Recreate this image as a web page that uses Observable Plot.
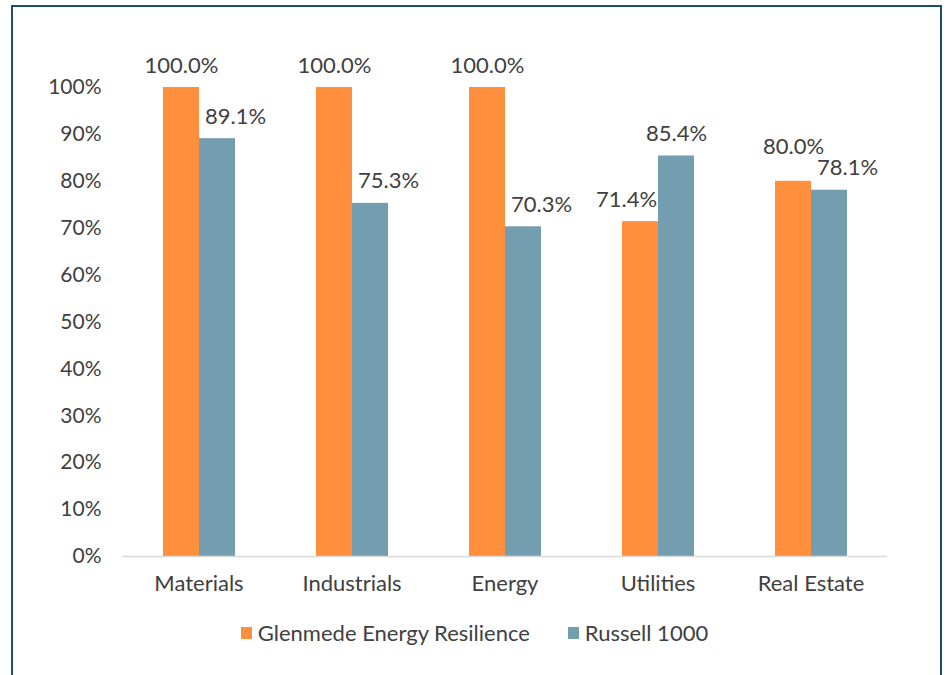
<!DOCTYPE html>
<html>
<head>
<meta charset="utf-8">
<script src="https://cdn.jsdelivr.net/npm/d3@7"></script>
<script src="https://cdn.jsdelivr.net/npm/@observablehq/plot@0.6"></script>
<style>
  html, body { margin: 0; padding: 0; background: #fff; width: 949px; height: 675px; overflow: hidden; }
  #frame { position: absolute; left: 11px; top: 5px; width: 931px; height: 700px; border: 2px solid #1F4E69; box-sizing: border-box; }
  #chart { position: absolute; left: 0; top: 0; }
  #legend { position: absolute; left: 0; top: 619px; width: 949px; display: flex; justify-content: center; align-items: center; font-family: Lato, sans-serif; font-size: 22px; color: #404040; line-height: 28px; }
  .item { display: flex; align-items: center; margin: 0 19px; }
  .sw { width: 11px; height: 12px; margin-right: 6px; }
</style>
</head>
<body>
<div id="frame"></div>
<div id="chart"></div>
<div id="legend"></div>
<script>
const categories = ["Materials", "Industrials", "Energy", "Utilities", "Real Estate"];
const series = ["Glenmede Energy Resilience", "Russell 1000"];
const glenmede = [1.000, 1.000, 1.000, 0.714, 0.800];
const russell = [0.891, 0.753, 0.703, 0.854, 0.781];
const yTicks = [0, 0.1, 0.2, 0.3, 0.4, 0.5, 0.6, 0.7, 0.8, 0.9, 1.0];

// styling
const colors = ["#FF8F3D", "#739EAF"];
// label nudges (as placed in the original chart), keyed by category|series index
const labelNudge = {
  "Utilities|0": [-14, 0],
  "Real Estate|0": [0, -12],
  "Materials|1": [18, 0],
  "Industrials|1": [18, 0],
  "Energy|1": [18, 0],
  "Real Estate|1": [18, 0]
};

const data = [];
categories.forEach((c, i) => {
  data.push({category: c, series: series[0], si: 0, value: glenmede[i]});
  data.push({category: c, series: series[1], si: 1, value: russell[i]});
});
const nudge = d => labelNudge[d.category + "|" + d.si] || [0, 0];

const labelMarks = data.map(d => Plot.text([d], {
  fx: "category", x: "series", y: "value",
  text: v => (v.value * 100).toFixed(1) + "%",
  dx: nudge(d)[0], dy: -22 + nudge(d)[1],
  fill: "#404040", fontSize: 22
}));

const chart = Plot.plot({
  width: 949,
  height: 600,
  marginTop: 87,
  marginBottom: 44,
  marginLeft: 121,
  marginRight: 62,
  style: {fontFamily: "Lato, sans-serif", fontSize: "22px", color: "#404040", background: "transparent"},
  fx: {domain: categories, padding: 0, label: null, axis: "bottom", tickSize: 0, tickPadding: 19},
  x: {domain: series, paddingInner: 0, paddingOuter: 1.1, axis: null},
  y: {domain: [0, 1], ticks: yTicks, tickFormat: d => Math.round(d * 100) + "%", label: null, tickSize: 0, tickPadding: 21},
  color: {domain: series, range: colors},
  marks: [
    Plot.barY(data, {fx: "category", x: "series", y: "value", fill: "series", inset: 0}),
    Plot.ruleY([0], {stroke: "#D9D9D9", strokeWidth: 1.5}),
    ...labelMarks
  ]
});
d3.select(chart).selectAll("g[aria-label='y-axis tick label']").attr("font-size", 21);
document.getElementById("chart").appendChild(chart);

const legend = document.getElementById("legend");
series.forEach((s, i) => {
  const item = document.createElement("div");
  item.className = "item";
  const sw = document.createElement("div");
  sw.className = "sw";
  sw.style.background = colors[i];
  const t = document.createElement("span");
  t.textContent = s;
  item.appendChild(sw);
  item.appendChild(t);
  legend.appendChild(item);
});
</script>
</body>
</html>
